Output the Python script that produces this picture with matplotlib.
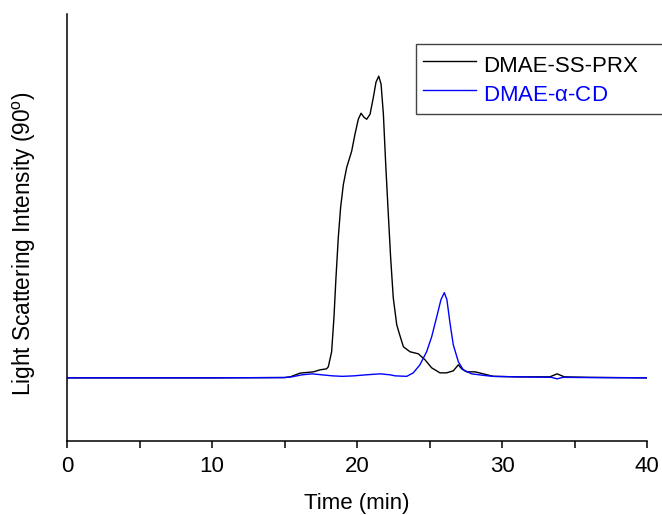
import matplotlib
matplotlib.use("Agg")
import matplotlib.pyplot as plt
from matplotlib.ticker import MultipleLocator

plt.rcParams['font.family'] = ['Liberation Sans', 'DejaVu Sans']
plt.rcParams['mathtext.default'] = 'regular'

# Data (time in min, intensity in arbitrary units)
prx_time = [0, 5, 10, 15, 15.4, 16.07, 17.0, 17.45, 17.9, 18.02, 18.25, 18.41, 18.55,
            18.71, 18.87, 19.06, 19.29, 19.63, 19.86, 20.09, 20.28, 20.48, 20.67,
            20.9, 21.13, 21.31, 21.5, 21.66, 21.82, 21.98, 22.16, 22.32, 22.5,
            22.74, 22.9, 23.2, 23.66, 24.23, 24.69, 25.15, 25.72, 26.18, 26.64,
            26.99, 27.22, 27.56, 28.14, 28.71, 29.4, 31, 33.3, 33.8, 34.3, 36, 40]
prx_signal = [0, 0, 0, 0.3, 1, 4.7, 6, 8, 9, 11, 26, 60, 100,
              140, 170, 193, 210, 226, 243, 258, 264, 260, 258,
              263, 280, 295, 301, 293, 263, 213, 163, 120, 80,
              53, 45, 31, 26, 24, 18, 10, 5, 5, 7,
              13, 9, 6, 6, 4, 1.5, 1, 1, 4, 1, 0.5, 0]

cd_time = [0, 5, 10, 15, 15.5, 16.2, 16.9, 17.6, 18.3, 19.0, 19.8, 20.6, 21.6,
           22.3, 22.62, 23.43, 23.88, 24.34, 24.8, 25.15, 25.5, 25.79, 26.02,
           26.2, 26.41, 26.64, 26.99, 27.33, 27.91, 28.83, 29.4, 31, 33.4,
           33.8, 34.2, 36, 40]
cd_signal = [0, 0, 0, 0.3, 1, 3, 4, 3, 2, 1.5, 2, 3, 4,
             3, 2, 1.5, 5, 13, 26, 41, 61, 78, 85,
             78, 55, 33, 16, 8, 4, 2.3, 1.5, 1, 0.5,
             -1, 0.5, 0.3, 0]

fig = plt.figure(figsize=(6.62, 5.15), dpi=100)
ax = fig.add_axes([67 / 662, 1 - 441 / 515, 580 / 662, 427 / 515])

ax.plot(prx_time, prx_signal, color='black', lw=1.0, label='DMAE-SS-PRX')
ax.plot(cd_time, cd_signal, color='#0000ff', lw=1.0, label=r'DMAE-$\alpha$-CD')

ax.set_xlim(0, 40)
ax.set_ylim(-63, 363)
ax.xaxis.set_major_locator(MultipleLocator(10))
ax.xaxis.set_minor_locator(MultipleLocator(5))
ax.set_yticks([])
ax.tick_params(axis='x', which='both', direction='out', length=5, width=1.1, labelsize=16, pad=6)

for side in ['top', 'right']:
    ax.spines[side].set_visible(False)
for side in ['left', 'bottom']:
    ax.spines[side].set_linewidth(1.1)

ax.set_xlabel('Time (min)', fontsize=16, labelpad=11)
ax.set_ylabel('Light Scattering Intensity (90$^{o}$)', fontsize=16.3)
ax.yaxis.set_label_coords(-0.05, 0.4625)

leg = ax.legend(loc='upper left', bbox_to_anchor=(416 / 662, 1 - 44 / 515, 0.38, 0.0),
                bbox_transform=fig.transFigure, mode='expand', borderaxespad=0,
                fontsize=16, frameon=True, fancybox=False, framealpha=1,
                edgecolor='#444444', handlelength=2.4, handletextpad=0.3,
                handleheight=1.55, borderpad=0.3, labelspacing=0.05,
                labelcolor='linecolor')
leg.get_frame().set_linewidth(1.0)

fig.savefig('out.png', dpi=100)
